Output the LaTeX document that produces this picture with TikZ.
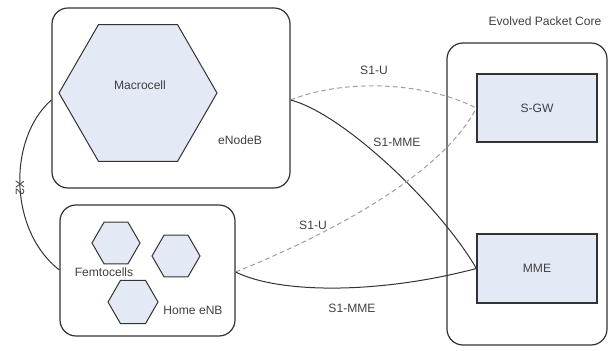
\documentclass[tikz,border=0pt]{standalone}
\usepackage{fontspec}
\setmainfont{Liberation Sans}
\usetikzlibrary{shapes.geometric}
\definecolor{cellfill}{rgb}{0.890000,0.914000,0.960000}
\definecolor{edgegray}{rgb}{0.200000,0.200000,0.200000}
\definecolor{dashgray}{rgb}{0.620000,0.620000,0.620000}
\definecolor{textgray}{rgb}{0.250000,0.250000,0.250000}
\tikzset{
  groupbox/.style={draw=edgegray, line width=0.030cm, rounded corners=0.400000cm, inner sep=0},
  gwbox/.style={draw=edgegray, fill=cellfill, line width=0.030cm, inner sep=0},
  cell/.style={regular polygon, regular polygon sides=6, draw=edgegray, fill=cellfill, line width=0.025cm, inner sep=0},
  lbl/.style={text=textgray, inner sep=0.5pt},
  solidlink/.style={draw=edgegray, line width=0.025cm},
  dashlink/.style={draw=dashgray, line width=0.025cm, dash pattern=on 0.12cm off 0.08cm}
}
\begin{document}
\begin{tikzpicture}
        \useasboundingbox (0,0) rectangle (15.225000,8.750000);
        {\fontsize{8.6}{10}\selectfont

        % Drawing the eNodeB group
        \node (enb) [groupbox, minimum width=5.950000cm, minimum height=4.500000cm] at (4.275000,6.300000) {};%
        \node (macro) [cell, minimum size=3.950000cm] at (3.450000,6.425000) {};%
        \node (macrolbl) [lbl] at (3.500000,6.625000) {Macrocell};%
        \node (enblbl) [lbl] at (6.000000,5.250000) {eNodeB};%

        % Drawing the Home eNB group
        \node (henb) [groupbox, minimum width=4.375000cm, minimum height=3.275000cm] at (3.687500,1.987500) {};%
        \node (femtoa) [cell, minimum size=1.200000cm] at (2.900000,2.675000) {};%
        \node (femtob) [cell, minimum size=1.200000cm] at (4.400000,2.350000) {};%
        \node (femtoc) [cell, minimum size=1.250000cm] at (3.325000,1.200000) {};%
        \node (femtolbl) [lbl] at (2.600000,1.950000) {Femtocells};%
        \node (henblbl) [lbl] at (4.825000,1.000000) {Home eNB};%

        % Drawing the Evolved Packet Core
        \node (epc) [groupbox, minimum width=4.000000cm, minimum height=7.550000cm] at (13.175000,3.900000) {};%
        \node (epclbl) [lbl] at (13.625000,8.225000) {Evolved Packet Core};%
        \node (sgw) [gwbox, minimum width=3.000000cm, minimum height=1.700000cm, lbl] at (13.425000,6.050000) {S-GW};%
        \node (mme) [gwbox, minimum width=3.000000cm, minimum height=1.725000cm, lbl] at (13.425000,2.037500) {MME};%

        % Drawing X2
        \draw [solidlink] (enb.west |- 0,6.250000) .. controls (0.200000,5.300000) and (0.200000,3.000000) .. (henb.west |- 0,2.000000);%
        \node (x2lbl) [lbl, rotate=-90] at (0.500000,4.050000) {X2};%

        % Drawing S1 links of the eNodeB
        \draw [dashlink] (enb.east |- 0,6.250000) .. controls (8.500000,6.750000) and (10.500000,6.750000) .. (sgw.west);%
        \draw [solidlink] (enb.east |- 0,6.250000) .. controls (8.600000,5.900000) and (11.000000,3.600000) .. (mme.west);%
        \node (suplbl) [lbl] at (9.350000,7.000000) {S1-U};%
        \node (smmeuplbl) [lbl] at (9.925000,5.200000) {S1-MME};%

        % Drawing S1 links of the Home eNB
        \draw [dashlink] (henb.east |- 0,1.950000) .. controls (8.000000,2.800000) and (11.000000,4.300000) .. (sgw.west);%
        \draw [solidlink] (henb.east |- 0,1.950000) .. controls (7.000000,1.400000) and (9.500000,1.400000) .. (mme.west);%
        \node (sdownlbl) [lbl] at (7.825000,3.125000) {S1-U};%
        \node (smmedownlbl) [lbl] at (8.800000,1.050000) {S1-MME};%
        }
    \end{tikzpicture}
\end{document}
